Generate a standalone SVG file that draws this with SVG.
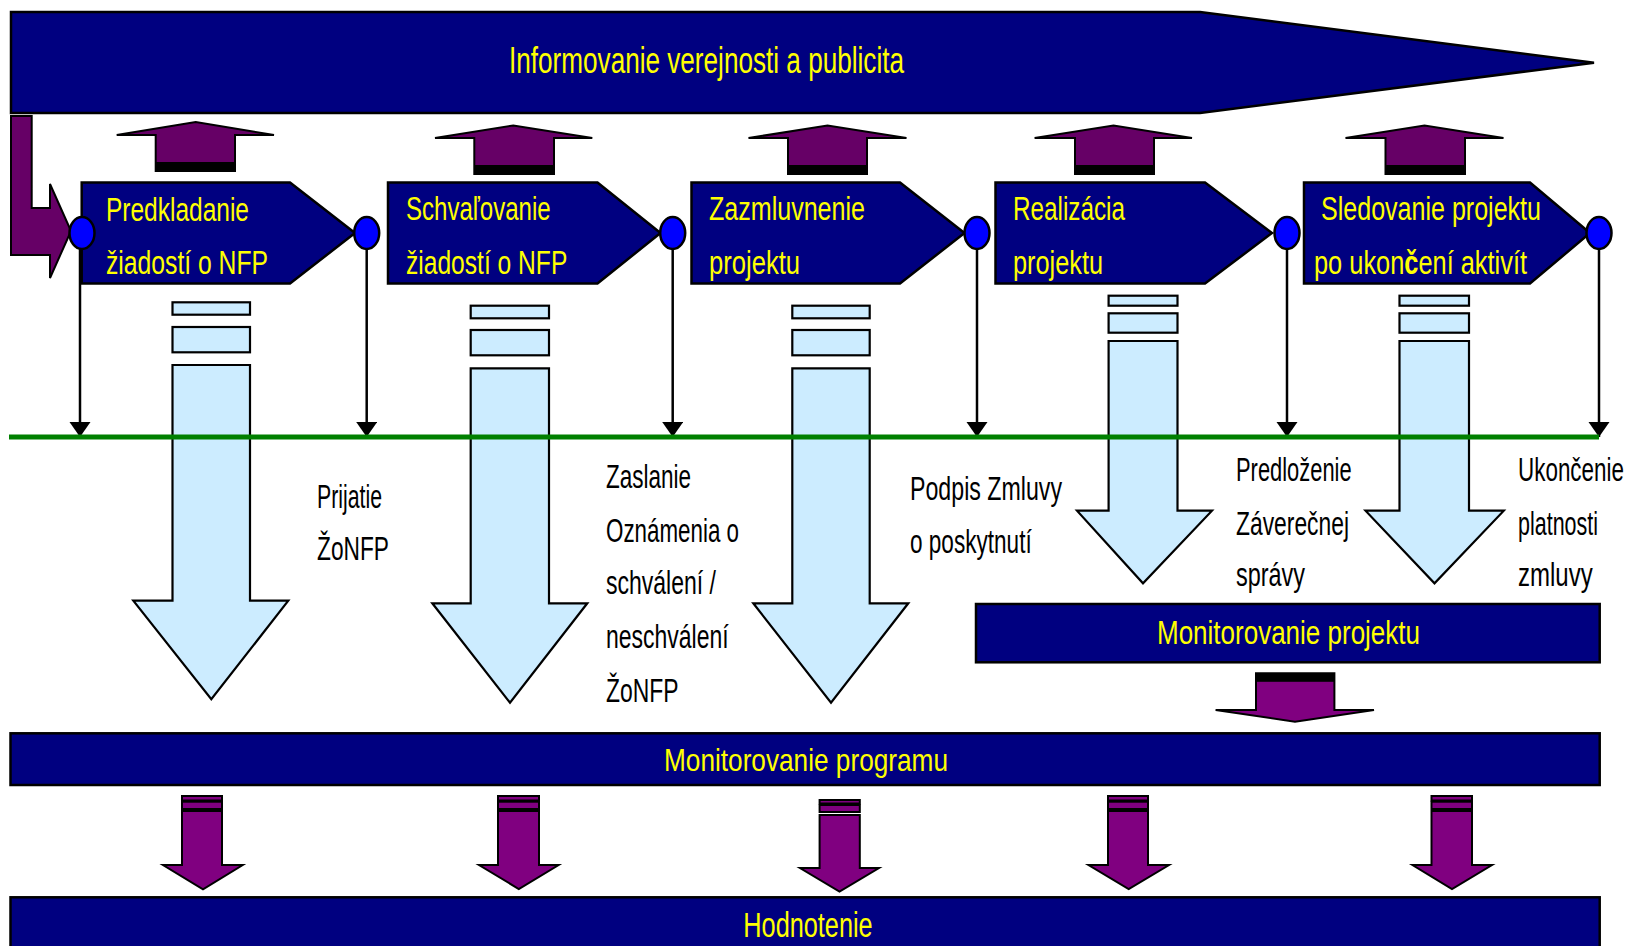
<svg xmlns="http://www.w3.org/2000/svg" width="1630" height="946" viewBox="0 0 1630 946">
<style>
.navy{fill:#000080;stroke:#000;stroke-width:2.5;stroke-linejoin:miter}
.up{fill:#660066;stroke:#000;stroke-width:2}
.band{fill:#000}
.lb{fill:#CCECFF;stroke:#000;stroke-width:2.2}
.pd{fill:#800080;stroke:#000;stroke-width:2}
.dot{fill:#0000FF;stroke:#000;stroke-width:2.5}
.conn{stroke:#000;stroke-width:2.5;fill:none}
.green{stroke:#008000;stroke-width:5}
text{font-family:"Liberation Sans Narrow","Liberation Sans",Arial,sans-serif}
.y{fill:#FFFF00;font-size:33px}
.b{fill:#000;font-size:33px}
</style>
<defs>
<marker id="ah" markerUnits="userSpaceOnUse" markerWidth="16" markerHeight="22" refX="15" refY="10.5" orient="auto">
<path d="M0,0 L15,10.5 L0,21 z" fill="#000"/>
</marker>
</defs>

<g id="banner">
<polygon class="navy" points="11,12 1200,12 1594,62.7 1200,113 11,113"/>
<text class="y" x="509" y="73.3" style="font-size:37px" textLength="395" lengthAdjust="spacingAndGlyphs">Informovanie verejnosti a publicita</text>
</g>

<g id="start-arrow">
<polygon class="up" points="11,116 31.7,116 31.7,208 50,208 50,184 71,231 50,278 50,255 11,255"/>
</g>

<g id="up-arrows">
<g id="up1"><polygon class="up" points="116.7,135 195.7,122 274,135 235,135 235,171 155.7,171 155.7,135"/><rect class="band" x="155.7" y="162" width="79.3" height="9"/></g>
<g id="up2"><polygon class="up" points="435,138 513.3,125.5 592.3,138 554,138 554,174 474.3,174 474.3,138"/><rect class="band" x="474.3" y="165" width="79.7" height="9"/></g>
<g id="up3"><polygon class="up" points="748.5,138 827.5,125.5 906.5,138 867,138 867,174 788,174 788,138"/><rect class="band" x="788" y="165" width="79" height="9"/></g>
<g id="up4"><polygon class="up" points="1034.6,138 1113.5,125.5 1192,138 1154,138 1154,174 1075,174 1075,138"/><rect class="band" x="1075" y="165" width="79" height="9"/></g>
<g id="up5"><polygon class="up" points="1345.5,138 1424.5,125.5 1503.5,138 1465,138 1465,174 1385.5,174 1385.5,138"/><rect class="band" x="1385.5" y="165" width="79.5" height="9"/></g>
</g>

<g id="step1">
<polygon class="navy" points="81.7,182.5 290,182.5 355,233 290,283.5 81.7,283.5"/>
<text class="y" x="106" y="221" textLength="143" lengthAdjust="spacingAndGlyphs">Predkladanie</text>
<text class="y" x="106" y="274" textLength="162" lengthAdjust="spacingAndGlyphs">žiadostí o NFP</text>
</g>
<g id="step2">
<polygon class="navy" points="388,182.5 597.5,182.5 660.5,233 597.5,283.5 388,283.5"/>
<text class="y" x="406" y="220" textLength="144.7" lengthAdjust="spacingAndGlyphs">Schvaľovanie</text>
<text class="y" x="406" y="274" textLength="161.3" lengthAdjust="spacingAndGlyphs">žiadostí o NFP</text>
</g>
<g id="step3">
<polygon class="navy" points="691.5,182.5 900,182.5 964.5,233 900,283.5 691.5,283.5"/>
<text class="y" x="709" y="220" textLength="156" lengthAdjust="spacingAndGlyphs">Zazmluvnenie</text>
<text class="y" x="709" y="273.5" textLength="91" lengthAdjust="spacingAndGlyphs">projektu</text>
</g>
<g id="step4">
<polygon class="navy" points="995.5,182.5 1205,182.5 1272,233 1205,283.5 995.5,283.5"/>
<text class="y" x="1013" y="220" textLength="112" lengthAdjust="spacingAndGlyphs">Realizácia</text>
<text class="y" x="1013" y="273.5" textLength="90" lengthAdjust="spacingAndGlyphs">projektu</text>
</g>
<g id="step5">
<polygon class="navy" points="1304,182.5 1530,182.5 1590,233 1530,283.5 1304,283.5"/>
<text class="y" x="1321" y="220" textLength="220" lengthAdjust="spacingAndGlyphs">Sledovanie projektu</text>
<text class="y" x="1314" y="273.5" textLength="213" lengthAdjust="spacingAndGlyphs">po ukon<tspan font-weight="bold">č</tspan>ení aktivít</text>
</g>

<g id="down-flows">
<g id="flowA"><rect class="lb" x="172.5" y="302.3" width="77.5" height="12.4"/><rect class="lb" x="172.5" y="327" width="77.5" height="25.3"/><polygon class="lb" points="172.5,365 250,365 250,600.7 288.3,600.7 211.3,699.3 133.3,600.7 172.5,600.7"/></g>
<g id="flowB"><rect class="lb" x="470.7" y="305.7" width="78.3" height="12.6"/><rect class="lb" x="470.7" y="330" width="78.3" height="25.3"/><polygon class="lb" points="470.7,368.3 549,368.3 549,603.3 587.3,603.3 510,702.7 432.3,603.3 470.7,603.3"/></g>
<g id="flowC"><rect class="lb" x="792.3" y="305.7" width="77.4" height="12.6"/><rect class="lb" x="792.3" y="330" width="77.4" height="25.3"/><polygon class="lb" points="792.3,368.3 869.7,368.3 869.7,603.3 908.3,603.3 831,702.7 753.3,603.3 792.3,603.3"/></g>
<g id="flowD"><rect class="lb" x="1108.6" y="295.7" width="68.9" height="10"/><rect class="lb" x="1108.6" y="313.3" width="68.9" height="19.4"/><polygon class="lb" points="1108.6,341 1177.5,341 1177.5,510.7 1212,510.7 1143,583.3 1077,510.7 1108.6,510.7"/></g>
<g id="flowE"><rect class="lb" x="1399.5" y="295.7" width="69.5" height="10"/><rect class="lb" x="1399.5" y="313.3" width="69.5" height="19.4"/><polygon class="lb" points="1399.5,341 1469,341 1469,510.7 1503.8,510.7 1434.5,583.3 1365.5,510.7 1399.5,510.7"/></g>
</g>

<g id="connectors">
<line class="conn" x1="80" y1="249" x2="80" y2="437" marker-end="url(#ah)"/>
<line class="conn" x1="366.7" y1="249" x2="366.7" y2="437" marker-end="url(#ah)"/>
<line class="conn" x1="672.7" y1="249" x2="672.7" y2="437" marker-end="url(#ah)"/>
<line class="conn" x1="977" y1="249" x2="977" y2="437" marker-end="url(#ah)"/>
<line class="conn" x1="1287" y1="249" x2="1287" y2="437" marker-end="url(#ah)"/>
<line class="conn" x1="1599" y1="249" x2="1599" y2="437" marker-end="url(#ah)"/>
</g>

<g id="milestones">
<ellipse class="dot" cx="82" cy="233" rx="12.5" ry="16"/>
<ellipse class="dot" cx="366.7" cy="233" rx="12.5" ry="16"/>
<ellipse class="dot" cx="672.7" cy="233" rx="12.5" ry="16"/>
<ellipse class="dot" cx="977" cy="233" rx="12.5" ry="16"/>
<ellipse class="dot" cx="1287" cy="233" rx="12.5" ry="16"/>
<ellipse class="dot" cx="1599" cy="233" rx="12.5" ry="16"/>
</g>

<g id="timeline">
<line class="green" x1="9" y1="437" x2="1599" y2="437"/>
</g>

<g id="labels">
<text class="b" x="317" y="508.3" textLength="65" lengthAdjust="spacingAndGlyphs">Prijatie</text>
<text class="b" x="317" y="560" textLength="72" lengthAdjust="spacingAndGlyphs">ŽoNFP</text>
<text class="b" x="606" y="488" textLength="85" lengthAdjust="spacingAndGlyphs">Zaslanie</text>
<text class="b" x="606" y="541.7" textLength="133" lengthAdjust="spacingAndGlyphs">Oznámenia o</text>
<text class="b" x="606" y="594.3" textLength="110" lengthAdjust="spacingAndGlyphs">schválení /</text>
<text class="b" x="606" y="648.3" textLength="122.6" lengthAdjust="spacingAndGlyphs">neschválení</text>
<text class="b" x="606" y="701.7" textLength="72.6" lengthAdjust="spacingAndGlyphs">ŽoNFP</text>
<text class="b" x="910" y="500" textLength="152" lengthAdjust="spacingAndGlyphs">Podpis Zmluvy</text>
<text class="b" x="910" y="552.7" textLength="121.7" lengthAdjust="spacingAndGlyphs">o poskytnutí</text>
<text class="b" x="1236" y="481" textLength="115.6" lengthAdjust="spacingAndGlyphs">Predloženie</text>
<text class="b" x="1236" y="535" textLength="113" lengthAdjust="spacingAndGlyphs">Záverečnej</text>
<text class="b" x="1236" y="586" textLength="69" lengthAdjust="spacingAndGlyphs">správy</text>
<text class="b" x="1518" y="481" textLength="106" lengthAdjust="spacingAndGlyphs">Ukončenie</text>
<text class="b" x="1518" y="535" textLength="80" lengthAdjust="spacingAndGlyphs">platnosti</text>
<text class="b" x="1518" y="586" textLength="74.7" lengthAdjust="spacingAndGlyphs">zmluvy</text>
</g>

<g id="monitorovanie-projektu">
<rect class="navy" x="976" y="604" width="623.7" height="58.3"/>
<text class="y" x="1157" y="644" style="font-size:34px" textLength="263" lengthAdjust="spacingAndGlyphs">Monitorovanie projektu</text>
</g>

<g id="project-to-program">
<polygon class="pd" points="1256,673.3 1334.4,673.3 1334.4,710 1374,710 1295,721.7 1215.6,710 1256,710"/>
<rect class="band" x="1256" y="673.3" width="78.4" height="8.5"/>
</g>

<g id="monitorovanie-programu">
<rect class="navy" x="10.5" y="733.3" width="1589.2" height="51.7"/>
<text class="y" x="664" y="771" style="font-size:32px" textLength="284" lengthAdjust="spacingAndGlyphs">Monitorovanie programu</text>
</g>

<g id="program-to-eval">
<g id="pd1"><rect class="pd" x="182" y="796" width="40" height="4.5"/><rect class="pd" x="182" y="801.7" width="40" height="7.3"/><polygon class="pd" points="182,811 222,811 222,865 242.7,865 203,889.3 163,865 182,865"/></g>
<g id="pd2"><rect class="pd" x="498" y="796" width="41" height="4.5"/><rect class="pd" x="498" y="801.7" width="41" height="7.3"/><polygon class="pd" points="498,811 539,811 539,865 558.6,865 518.8,889 479,865 498,865"/></g>
<g id="pd3"><rect class="pd" x="819.6" y="800" width="40.2" height="3.5"/><rect class="pd" x="819.6" y="805" width="40.2" height="7"/><polygon class="pd" points="819.6,815 859.8,815 859.8,868 879,868 839.5,891.7 800,868 819.6,868"/></g>
<g id="pd4"><rect class="pd" x="1108" y="796" width="40" height="4.5"/><rect class="pd" x="1108" y="801.7" width="40" height="7.3"/><polygon class="pd" points="1108,811 1148,811 1148,865 1169,865 1128.7,889 1088.5,865 1108,865"/></g>
<g id="pd5"><rect class="pd" x="1431.5" y="796" width="40.5" height="4.5"/><rect class="pd" x="1431.5" y="801.7" width="40.5" height="7.3"/><polygon class="pd" points="1431.5,811 1472,811 1472,865 1492,865 1452,889 1412.5,865 1431.5,865"/></g>
</g>

<g id="hodnotenie">
<rect class="navy" x="10.5" y="897.3" width="1589.2" height="60"/>
<text class="y" x="743.3" y="936.7" style="font-size:35px" textLength="129.4" lengthAdjust="spacingAndGlyphs">Hodnotenie</text>
</g>
</svg>
